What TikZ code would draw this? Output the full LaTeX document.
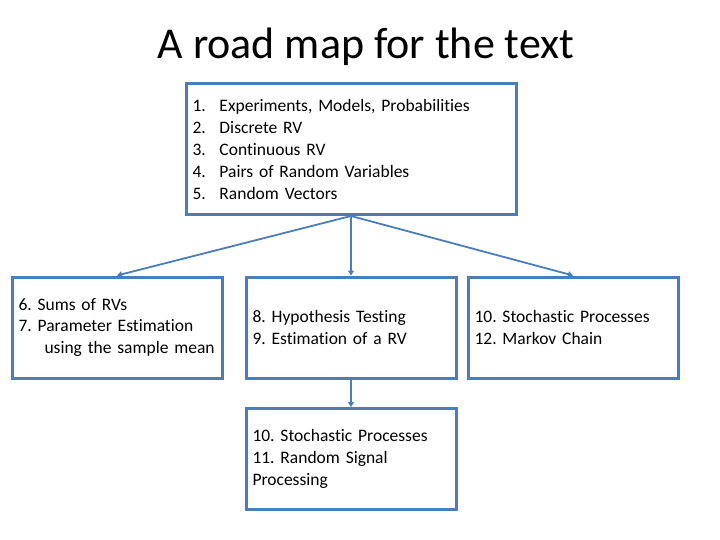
\documentclass[tikz,border=0pt]{standalone}
\usepackage{fontspec}
\setmainfont{Carlito}[Ligatures={NoCommon},RawFeature={-liga;-clig;-dlig}]
\usetikzlibrary{arrows.meta}
\definecolor{boxblue}{HTML}{4A7EBB}
\frenchspacing
\begin{document}
\begin{tikzpicture}[x=1pt,y=-1pt,
  box/.style={draw=boxblue,line width=3pt,rectangle,minimum width=210pt,minimum height=101pt,
    inner xsep=6.5pt,inner ysep=0pt,text width=197pt,align=left,font=\fontsize{17.5}{21.8}\selectfont\frenchspacing},
  conn/.style={draw=boxblue,line width=1.8pt,-{Triangle[width=6pt,length=5pt]}}]
\useasboundingbox (0,0) rectangle (720,540);
\node (title) at (366,47) {\fontsize{44}{50}\selectfont A road map for the text};
\node[box,minimum width=330pt,minimum height=131pt,text width=317pt] (top) at (351,149.5)
 {\makebox[27pt][l]{1.}Experiments, Models, Probabilities\\
  \makebox[27pt][l]{2.}Discrete RV\\
  \makebox[27pt][l]{3.}Continuous RV\\
  \makebox[27pt][l]{4.}Pairs of Random Variables\\
  \makebox[27pt][l]{5.}Random Vectors};
\node[box] (left) at (117,327.5)
 {6. Sums of RVs\\7. Parameter Estimation\\\hspace*{26pt}using the sample mean};
\node[box] (mid) at (351,327.5)
 {8. Hypothesis Testing\\9. Estimation of a RV};
\node[box] (right) at (573,327.5)
 {10. Stochastic Processes\\12. Markov Chain};
\node[box] (bot) at (351,459)
 {10. Stochastic Processes\\11. Random Signal\\Processing};
\coordinate (src) at (351,216);
\draw[conn] (src) -- (left.north);
\draw[conn] (src) -- (mid.north);
\draw[conn] (src) -- (right.north);
\draw[conn] (mid.south) -- (bot.north);
\end{tikzpicture}
\end{document}
